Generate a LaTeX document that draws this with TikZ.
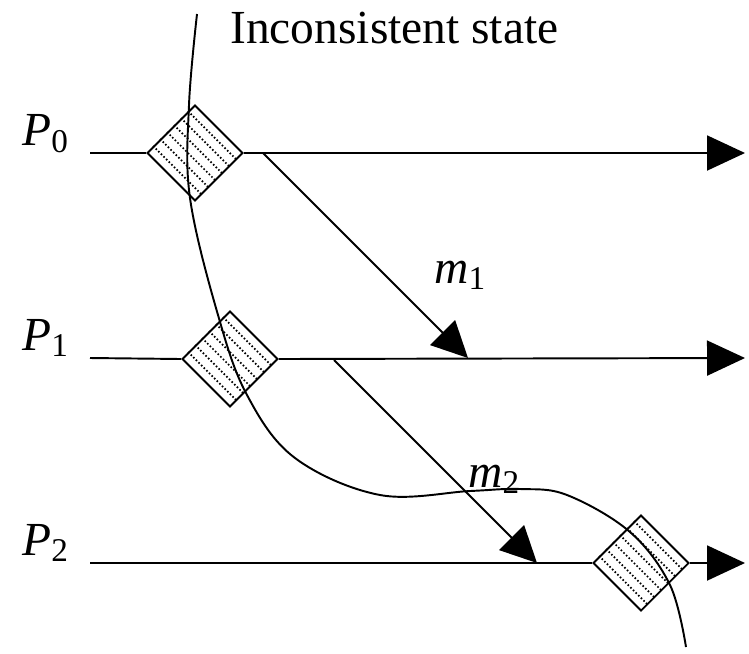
\documentclass[tikz,border=0pt]{standalone}
\usepackage{fontspec}
\setmainfont{Liberation Serif}
\newfontfamily\timesfont{Liberation Serif}
\usetikzlibrary{arrows.meta,shapes.geometric,calc}
\tikzset{
  procline/.style={line width=1.1pt, draw=black},
  procedge/.style={procline, -{Triangle[length=0.76cm,width=0.7cm]}},
  msgedge/.style={line width=1.1pt, -{Triangle[length=0.72cm,width=0.7cm]}},
  ckpt/.style={diamond, aspect=1, draw, line width=1.1pt, fill=white, minimum width=1.92cm, minimum height=1.92cm, inner sep=0pt},
  hatchline/.style={line width=1pt, dash pattern=on 0.9pt off 1.2pt},
  cutline/.style={line width=1.1pt},
  lbl/.style={font=\timesfont\fontsize{27}{31}\selectfont, inner sep=0pt}
}

\begin{document}
\begin{tikzpicture}[x=0.02cm, y=-0.02cm]
  \useasboundingbox (0,0) rectangle (749,653);

  % process labels and time lines
  \node[lbl, anchor=base west] (p0) at (22,145) {\textit{P}\textsubscript{0}};
  \node[lbl, anchor=base west] (p1) at (22,350) {\textit{P}\textsubscript{1}};
  \node[lbl, anchor=base west] (p2) at (22,555) {\textit{P}\textsubscript{2}};

  \coordinate (s0) at (90,153);  \coordinate (e0) at (745,153);
  \coordinate (s1) at (90,358);  \coordinate (e1) at (745,358);
  \coordinate (s2) at (90,563);  \coordinate (e2) at (745,563);

  \node[ckpt] (c0) at (195,153) {};
  \node[ckpt] (c1) at (230,359) {};
  \node[ckpt] (c2) at (641,563) {};

  \draw[procline] (s0) -- (c0.west);
  \draw[procedge] (c0.east) -- (e0);
  \draw[procline] (s1) -- (c1.west);
  \draw[procedge] (c1.east) -- (e1);
  \draw[procline] (s2) -- (c2.west);
  \draw[procedge] (c2.east) -- (e2);

  % hatching of the checkpoints
  \foreach \c in {c0,c1,c2}
    \foreach \i in {1,...,6}
      \draw[hatchline] ($(\c.west)!\i/7!(\c.north)$) -- ($(\c.south)!\i/7!(\c.east)$);

  % the cut
  \draw[cutline] plot[smooth, tension=0.6] coordinates {
    (197,14) (189,105) (190,198) (218,315) (247,395) (295,458) (380,495)
    (470,491) (520,489) (567,495) (630,532) (670,585) (686,647)};
  \node[lbl, anchor=base west] (cutlbl) at (230,43) {Inconsistent state};

  % messages
  \coordinate (m1s) at (263,153);  \coordinate (m1e) at (468,358);
  \coordinate (m2s) at (334,360);  \coordinate (m2e) at (537,563);
  \draw[msgedge] (m1s) -- (m1e);
  \draw[msgedge] (m2s) -- (m2e);
  \node[lbl, anchor=base west] (m1) at (434,283) {\textit{m}\textsubscript{1}};
  \node[lbl, anchor=base west] (m2) at (468,487) {\textit{m}\textsubscript{2}};
\end{tikzpicture}
\end{document}
